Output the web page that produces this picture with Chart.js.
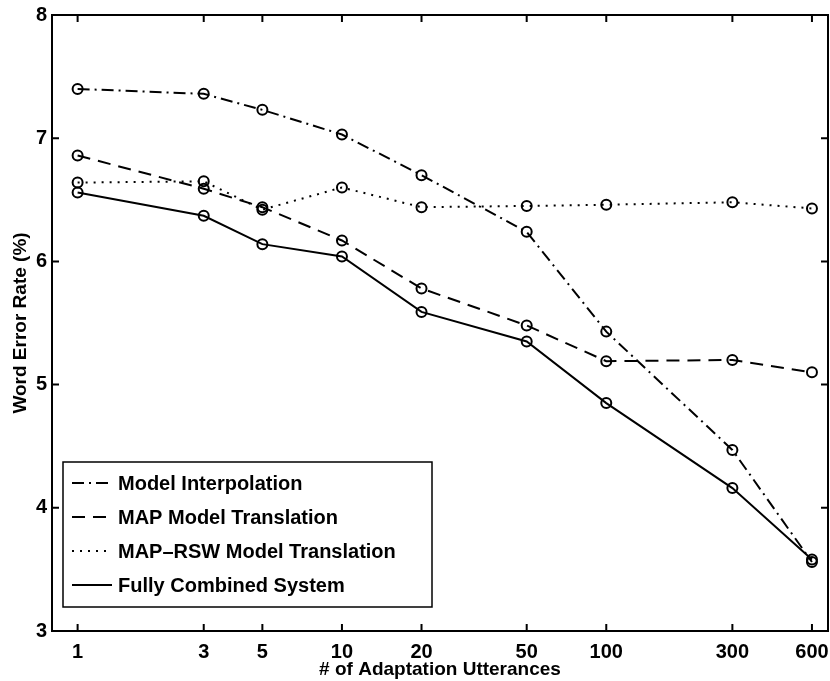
<!DOCTYPE html>
<html>
<head>
<meta charset="utf-8">
<script src="https://cdn.jsdelivr.net/npm/chart.js@4/dist/chart.umd.min.js"></script>
<style>
html,body{margin:0;padding:0;background:#fff;}
canvas{display:block;}
</style>
</head>
<body>
<canvas id="c" width="830" height="681"></canvas>
<script>
const utterances = [1, 3, 5, 10, 20, 50, 100, 300, 600];
const xTickValues = [1, 3, 5, 10, 20, 50, 100, 300, 600];
const yTickValues = [3, 4, 5, 6, 7, 8];
const modelInterpolation = [7.40, 7.36, 7.23, 7.03, 6.70, 6.24, 5.43, 4.47, 3.56];
const mapModelTranslation = [6.86, 6.59, 6.44, 6.17, 5.78, 5.48, 5.19, 5.20, 5.10];
const mapRswModelTranslation = [6.64, 6.65, 6.42, 6.60, 6.44, 6.45, 6.46, 6.48, 6.43];
const fullyCombinedSystem = [6.56, 6.37, 6.14, 6.04, 5.59, 5.35, 4.85, 4.16, 3.58];
const seriesLabels = ['Model Interpolation', 'MAP Model Translation', 'MAP\u2013RSW Model Translation', 'Fully Combined System'];

const FONT = '"Liberation Sans", Arial, Helvetica, sans-serif';
const PLOT_RIGHT_GAP = 2;

function mk(label, values, dash) {
  return {
    label: label,
    data: utterances.map((x, i) => ({x: x, y: values[i]})),
    borderColor: '#000',
    borderWidth: 2,
    borderDash: dash,
    backgroundColor: 'rgba(0,0,0,0)',
    pointStyle: 'circle',
    pointRadius: 5,
    pointBorderWidth: 2,
    pointBorderColor: '#000',
    pointBackgroundColor: 'rgba(0,0,0,0)',
    tension: 0,
    fill: false
  };
}

const zeroPad = () => ({left: 0, top: 0, right: 0, bottom: 0});

const stretchPlugin = {
  id: 'stretch',
  afterLayout(chart) {
    const r = chart.width - PLOT_RIGHT_GAP;
    const xs = chart.scales.x;
    chart.chartArea.right = r;
    chart.chartArea.width = r - chart.chartArea.left;
    xs.right = r;
    xs.width = r - xs.left;
    xs.configure();
  }
};

const framePlugin = {
  id: 'frame',
  afterDraw(chart) {
    const ctx = chart.ctx;
    const a = chart.chartArea;
    const xs = chart.scales.x, ys = chart.scales.y;
    ctx.save();
    ctx.strokeStyle = '#000';
    ctx.lineWidth = 2;
    ctx.strokeRect(a.left, a.top, a.right - a.left, a.bottom - a.top);
    const tl = 7;
    ctx.beginPath();
    xTickValues.forEach(v => {
      const p = xs.getPixelForValue(v);
      ctx.moveTo(p, a.bottom); ctx.lineTo(p, a.bottom - tl);
      ctx.moveTo(p, a.top); ctx.lineTo(p, a.top + tl);
    });
    yTickValues.forEach(v => {
      const p = ys.getPixelForValue(v);
      ctx.moveTo(a.left, p); ctx.lineTo(a.left + tl, p);
      ctx.moveTo(a.right, p); ctx.lineTo(a.right - tl, p);
    });
    ctx.stroke();

    // legend box
    const bx = 63, by = 462, bw = 369, bh = 145;
    ctx.fillStyle = '#fff';
    ctx.fillRect(bx, by, bw, bh);
    ctx.lineWidth = 1.5;
    ctx.strokeRect(bx, by, bw, bh);
    ctx.font = 'bold 20px ' + FONT;
    ctx.textBaseline = 'middle';
    ctx.textAlign = 'left';
    chart.data.datasets.forEach((ds, i) => {
      const y = 483 + i * 34;
      ctx.beginPath();
      ctx.setLineDash(ds.borderDash || []);
      ctx.lineWidth = 2;
      ctx.moveTo(72, y); ctx.lineTo(112, y);
      ctx.stroke();
      ctx.setLineDash([]);
      ctx.fillStyle = '#000';
      ctx.fillText(ds.label, 118, y + 1);
    });
    ctx.restore();
  }
};

new Chart(document.getElementById('c'), {
  type: 'line',
  data: {
    datasets: [
      mk(seriesLabels[0], modelInterpolation, [12, 5, 2, 5]),
      mk(seriesLabels[1], mapModelTranslation, [13, 8]),
      mk(seriesLabels[2], mapRswModelTranslation, [2, 6]),
      mk(seriesLabels[3], fullyCombinedSystem, [])
    ]
  },
  options: {
    responsive: false,
    animation: false,
    devicePixelRatio: 1,
    layout: {padding: {top: 15, right: PLOT_RIGHT_GAP, left: 0, bottom: 0}},
    plugins: {legend: {display: false}, tooltip: {enabled: false}},
    scales: {
      x: {
        type: 'logarithmic',
        position: 'bottom',
        min: 0.8,
        max: 690,
        grid: {display: false, drawTicks: false},
        border: {display: false},
        afterBuildTicks: s => { s.ticks = xTickValues.map(v => ({value: v})); },
        afterFit: s => { s.height = 50; s.paddingLeft = 0; s.paddingRight = 0; s.getPadding = zeroPad; },
        ticks: {
          color: '#000',
          padding: 9,
          autoSkip: false,
          maxRotation: 0,
          font: {family: FONT, size: 20, weight: 'bold'},
          callback: v => String(v)
        },
        title: {
          display: true,
          text: '# of Adaptation Utterances',
          color: '#000',
          padding: {top: 0, bottom: 0},
          font: {family: FONT, size: 19, weight: 'bold'}
        }
      },
      y: {
        min: 3,
        max: 8,
        grid: {display: false, drawTicks: false},
        border: {display: false},
        afterBuildTicks: s => { s.ticks = yTickValues.map(v => ({value: v})); },
        afterFit: s => { s.width = 52; s.paddingTop = 0; s.paddingBottom = 0; s.getPadding = zeroPad; },
        ticks: {
          color: '#000',
          padding: 5,
          font: {family: FONT, size: 20, weight: 'bold'},
          callback: v => String(v)
        },
        title: {
          display: true,
          text: 'Word Error Rate (%)',
          color: '#000',
          padding: {top: 9, bottom: 0},
          font: {family: FONT, size: 19, weight: 'bold'}
        }
      }
    }
  },
  plugins: [stretchPlugin, framePlugin]
});
</script>
</body>
</html>
